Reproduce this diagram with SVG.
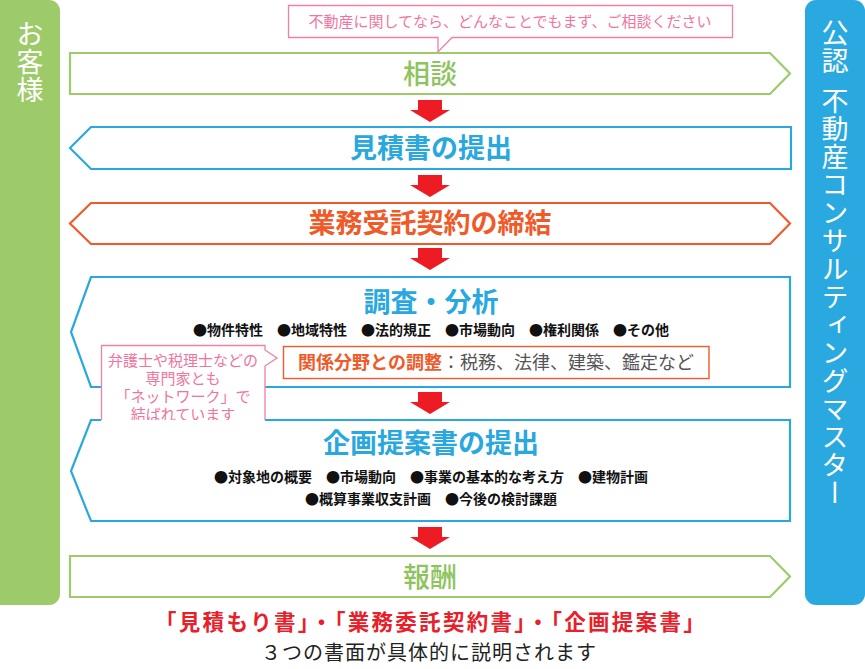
<svg xmlns="http://www.w3.org/2000/svg" width="865" height="669" viewBox="0 0 865 669">
<style>
text{font-family:"Noto Sans CJK JP","Noto Sans",sans-serif}
.t{font-size:27px;font-weight:700;text-anchor:middle}
.g{fill:#8dc45d;font-weight:500}.b{fill:#29a8e0}.o{fill:#f05a28}
.bl{font-size:14px;font-weight:700;fill:#111;text-anchor:middle}
.pk{font-size:15px;fill:#f0749f;text-anchor:middle}
.side{font-size:27px;fill:#fff;writing-mode:vertical-rl;letter-spacing:1px}
.box{fill:#fff;stroke-width:2.2}
</style>
<defs>
<path id="arr" d="M-12,0 H12 V10 H20 L0,22 L-20,10 H-12 Z" fill="#ed1c24"/>
</defs>
<rect width="865" height="669" fill="#fff"/>

<g id="customer">
<rect x="-12" y="0" width="72" height="605" rx="11" fill="#9dcb69"/>
<text class="side" x="30" y="20">お客様</text>
</g>

<g id="master">
<rect x="805" y="0" width="60" height="605" rx="11" fill="#2aa9e0"/>
<text class="side" x="835" y="19" word-spacing="5">公認 不動産コンサルティングマスター</text>
</g>

<g id="connectors">
<use href="#arr" x="430" y="100"/>
<use href="#arr" x="430" y="175"/>
<use href="#arr" x="430" y="248"/>
<use href="#arr" x="430" y="392"/>
<use href="#arr" x="430" y="527"/>
</g>

<g id="consult">
<path class="box" d="M70,53 H770 L790,73.5 L770,94 H70 Z" stroke="#9dcb69"/>
<text class="t g" x="430" y="84">相談</text>
</g>

<g id="note-consult">
<path d="M288.5,5.5 H732.5 V37.5 H452 L438,52 V37.5 H288.5 Z" fill="#fff" stroke="#f27fa7" stroke-width="1.3"/>
<text class="pk" x="510" y="27">不動産に関してなら、どんなことでもまず、ご相談ください</text>
</g>

<g id="estimate">
<path class="box" d="M91,127 H791 V169 H91 L70,148 Z" stroke="#29a8e0"/>
<text class="t b" x="431" y="158">見積書の提出</text>
</g>

<g id="contract">
<path class="box" d="M91,203 H770 L790,223.5 L770,244 H91 L70,223.5 Z" stroke="#f05a28"/>
<text class="t o" x="430" y="233">業務受託契約の締結</text>
</g>

<g id="research">
<path class="box" d="M91,277 H790 V387 H91 L71,332 Z" stroke="#29a8e0"/>
<text class="t b" x="431" y="312">調査・分析</text>
<text class="bl" x="431" y="335">●物件特性　●地域特性　●法的規正　●市場動向　●権利関係　●その他</text>
</g>

<g id="adjust">
<rect x="283.5" y="346.5" width="425.5" height="32" fill="#fff" stroke="#f05a28" stroke-width="1.4"/>
<text x="496" y="369" text-anchor="middle" font-size="18" fill="#555"><tspan fill="#f05a28" font-weight="700">関係分野との調整</tspan>：税務、法律、建築、鑑定など</text>
</g>

<g id="network-note">
<path d="M101.5,345.5 H265 V350 L277,358 L265,366 V427 H101.5 Z" fill="#fff" stroke="#f27fa7" stroke-width="1.3"/>
<text class="pk" x="183" y="366">弁護士や税理士などの<tspan x="183" dy="18">専門家とも</tspan><tspan x="183" dy="18">「ネットワーク」で</tspan><tspan x="183" dy="18">結ばれています</tspan></text>
</g>

<g id="proposal">
<path class="box" d="M265,420 H790 V521 H91 L71,471 L91,420 H101" stroke="#29a8e0"/>
<text class="t b" x="431" y="453">企画提案書の提出</text>
<text class="bl" x="431" y="482">●対象地の概要　●市場動向　●事業の基本的な考え方　●建物計画</text>
<text class="bl" x="431" y="504">●概算事業収支計画　●今後の検討課題</text>
</g>

<g id="fee">
<path class="box" d="M70,556 H770 L790,576.5 L770,597 H70 Z" stroke="#9dcb69"/>
<text class="t g" x="430" y="587">報酬</text>
</g>

<g id="summary">
<text x="431" y="630" text-anchor="middle" font-size="21.5" font-weight="700" letter-spacing="2.3" fill="#e8202a">「見積もり書」・「業務委託契約書」・「企画提案書」</text>
<text x="429" y="660" text-anchor="middle" font-size="20" letter-spacing="1" fill="#222">３つの書面が具体的に説明されます</text>
</g>
</svg>
